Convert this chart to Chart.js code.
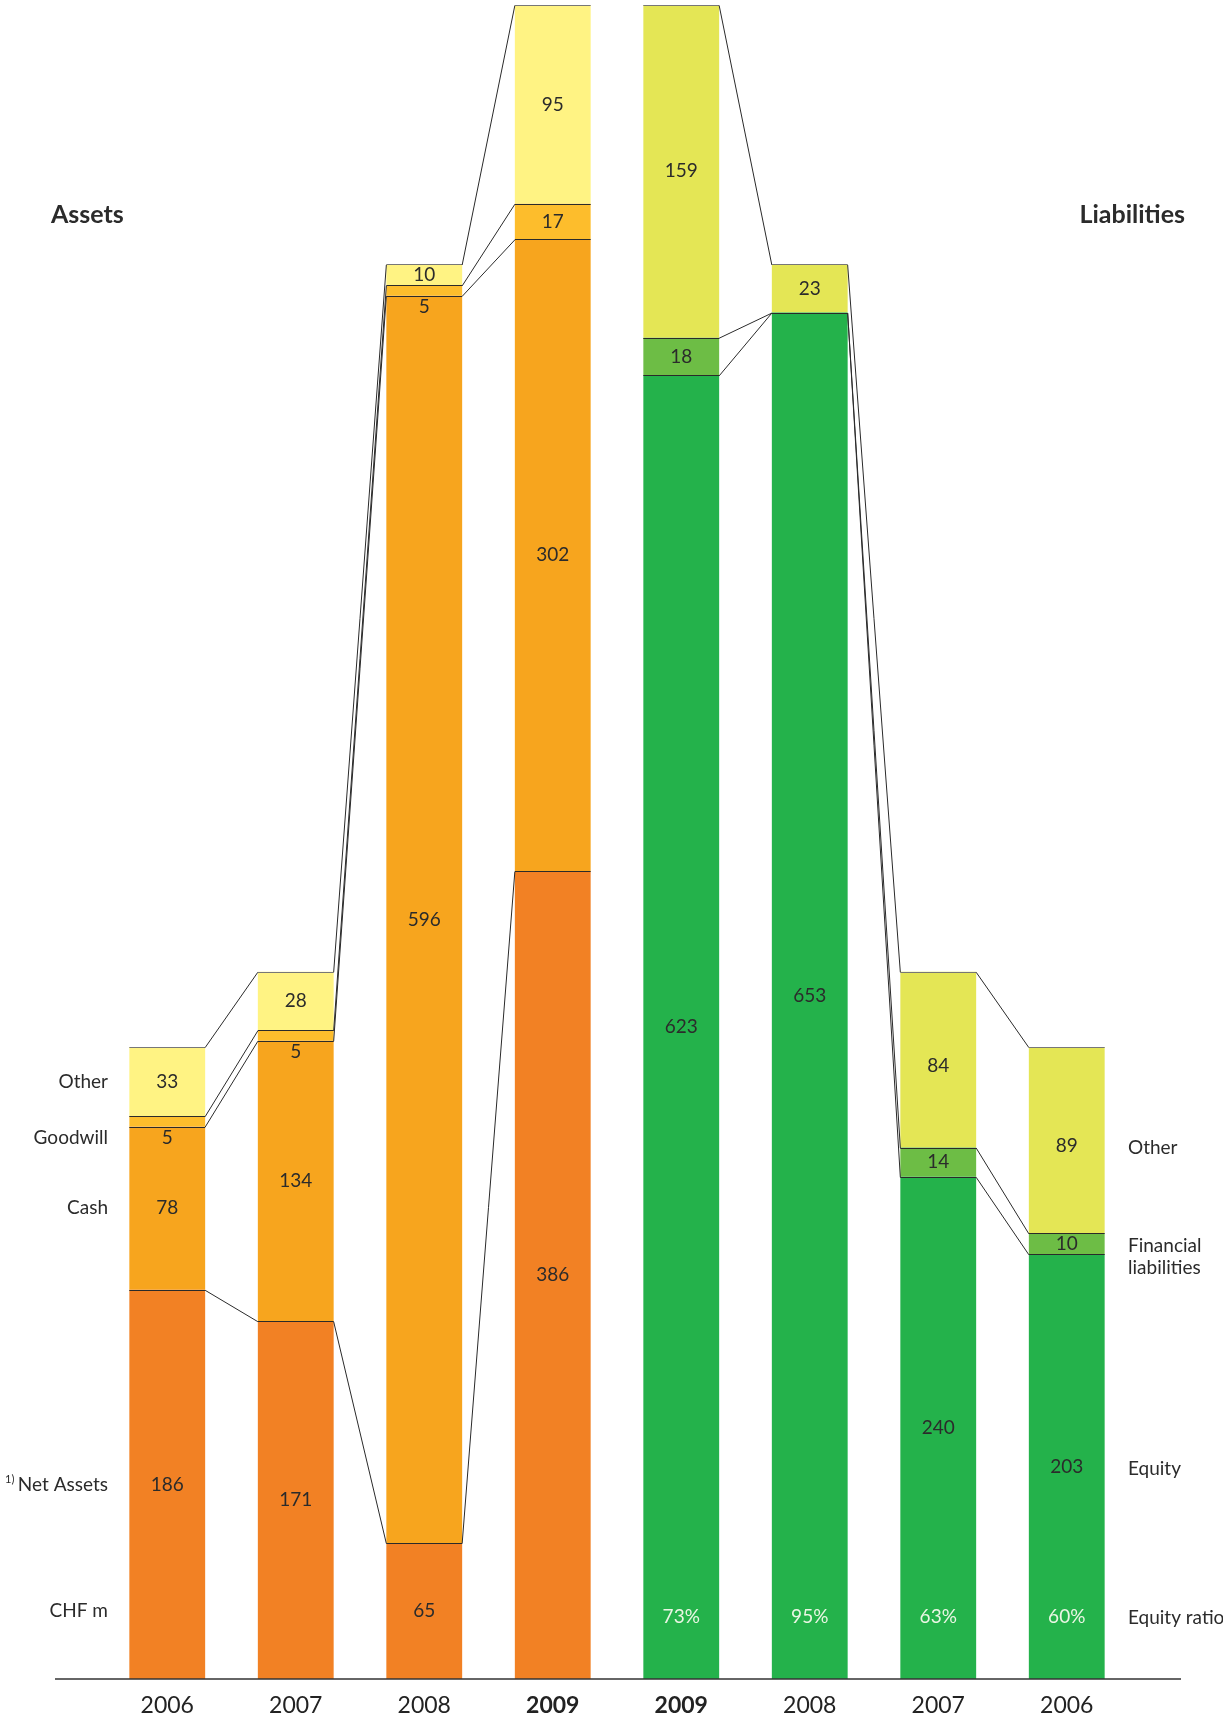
<!DOCTYPE html>
<html>
<head>
<meta charset="utf-8">
<script src="https://cdn.jsdelivr.net/npm/chart.js@4.4.1/dist/chart.umd.min.js"></script>
<style>
  html, body { margin: 0; padding: 0; background: #fff; }
</style>
</head>
<body>
<canvas id="balanceChart" width="1223" height="1720"></canvas>
<script>
// categories: assets 2006-2009, then liabilities 2009-2006
const years = ['2006', '2007', '2008', '2009', '2009', '2008', '2007', '2006'];

// assets (CHF m)
const netAssets   = [186, 171, 65, 386, null, null, null, null];
const cash        = [78, 134, 596, 302, null, null, null, null];
const goodwill    = [5, 5, 5, 17, null, null, null, null];
const otherAssets = [33, 28, 10, 95, null, null, null, null];

// liabilities (CHF m)
const equity               = [null, null, null, null, 623, 653, 240, 203];
const financialLiabilities = [null, null, null, null, 18, 0, 14, 10];
const otherLiabilities     = [null, null, null, null, 159, 23, 84, 89];
const equityRatio          = [null, null, null, null, '73%', '95%', '63%', '60%'];

const leftLabels = ['Net Assets', 'Cash', 'Goodwill', 'Other'];
const rightLabels = ['Equity', 'Financial\nliabilities', 'Other'];

const FONT = 'Lato, "Open Sans", sans-serif';
const TEXT = '#2b2b2b';

// label centre for a segment; tiny segments get their label just below
const labelY = (el, d, i) => {
  const h = el.base - el.y;
  let ty = h >= 15 ? (el.y + el.base) / 2 : el.base + 11;
  if (d === 6 && i > 5) ty += 6; // the older "other" liabilities sit a bit low
  return ty;
};

const balancePlugin = {
  id: 'balance',
  afterDatasetsDraw(chart) {
    const ctx = chart.ctx;
    const yScale = chart.scales.y;
    const zeroY = yScale.getPixelForValue(0);
    const sides = [
      { sets: [0, 1, 2, 3], first: 0, last: 3 },
      { sets: [4, 5, 6], first: 4, last: 7 }
    ];

    ctx.save();
    ctx.lineWidth = 1;

    // segment tops and connector lines
    sides.forEach(side => {
      side.sets.forEach((d, k) => {
        const meta = chart.getDatasetMeta(d);
        const values = chart.data.datasets[d].data;
        const isTop = k === side.sets.length - 1;
        for (let i = side.first; i <= side.last; i++) {
          const el = meta.data[i];
          if (values[i] > 0) {
            ctx.strokeStyle = isTop ? '#777' : '#2a2a2a';
            ctx.beginPath();
            ctx.moveTo(el.x - el.width / 2, Math.round(el.y) + 0.5);
            ctx.lineTo(el.x + el.width / 2, Math.round(el.y) + 0.5);
            ctx.stroke();
          }
          if (i < side.last) {
            const nx = meta.data[i + 1];
            ctx.strokeStyle = '#2a2a2a';
            ctx.beginPath();
            ctx.moveTo(el.x + el.width / 2, el.y + 0.5);
            ctx.lineTo(nx.x - nx.width / 2, nx.y + 0.5);
            ctx.stroke();
          }
        }
      });
    });

    // value labels
    ctx.font = '19px ' + FONT;
    ctx.textAlign = 'center';
    ctx.textBaseline = 'middle';
    ctx.fillStyle = TEXT;
    chart.data.datasets.forEach((ds, d) => {
      const meta = chart.getDatasetMeta(d);
      ds.data.forEach((v, i) => {
        if (!v) return;
        const el = meta.data[i];
        ctx.fillText(String(v), el.x, labelY(el, d, i));
      });
    });

    // equity ratio
    ctx.fillStyle = '#eaf6e4';
    const eqMeta = chart.getDatasetMeta(4);
    equityRatio.forEach((r, i) => {
      if (!r) return;
      ctx.fillText(r, eqMeta.data[i].x, zeroY - 62);
    });

    // left side labels, aligned with the 2006 assets bar
    ctx.fillStyle = TEXT;
    ctx.textAlign = 'right';
    [0, 1, 2, 3].forEach((d, k) => {
      const el = chart.getDatasetMeta(d).data[0];
      ctx.fillText(leftLabels[k], 108, labelY(el, d, 0));
    });
    ctx.fillText('CHF m', 108, zeroY - 68);
    ctx.font = '11px ' + FONT;
    ctx.textAlign = 'left';
    const netEl = chart.getDatasetMeta(0).data[0];
    ctx.fillText('1)', 5, (netEl.y + netEl.base) / 2 - 5);

    // right side labels, aligned with the 2006 liabilities bar
    ctx.font = '19px ' + FONT;
    ctx.textAlign = 'left';
    [4, 5, 6].forEach((d, k) => {
      const el = chart.getDatasetMeta(d).data[7];
      const cy = labelY(el, d, 7);
      rightLabels[k].split('\n').forEach((line, j) => {
        ctx.fillText(line, 1128, cy + 2 + j * 22);
      });
    });
    ctx.fillText('Equity ratio', 1128, zeroY - 61);

    // titles
    ctx.font = 'bold 25px ' + FONT;
    ctx.textAlign = 'left';
    ctx.fillText('Assets', 51, 215);
    ctx.textAlign = 'right';
    ctx.fillText('Liabilities', 1185, 215);

    // baseline
    ctx.strokeStyle = '#333';
    ctx.lineWidth = 1.5;
    ctx.beginPath();
    ctx.moveTo(55, zeroY);
    ctx.lineTo(1181, zeroY);
    ctx.stroke();
    ctx.restore();
  }
};

const makeSet = (label, data, color) => ({
  label: label,
  data: data,
  backgroundColor: color,
  borderWidth: 0,
  barPercentage: 0.59,
  categoryPercentage: 1
});

new Chart(document.getElementById('balanceChart'), {
  type: 'bar',
  data: {
    labels: years,
    datasets: [
      makeSet('Net Assets', netAssets, '#f28124'),
      makeSet('Cash', cash, '#f7a51e'),
      makeSet('Goodwill', goodwill, '#fdbd2c'),
      makeSet('Other', otherAssets, '#fff383'),
      makeSet('Equity', equity, '#24b24b'),
      makeSet('Financial liabilities', financialLiabilities, '#6dbd45'),
      makeSet('Other liabilities', otherLiabilities, '#e4e655')
    ]
  },
  options: {
    responsive: false,
    animation: false,
    layout: { padding: { top: 5, left: 103, right: 92, bottom: 0 } },
    plugins: { legend: { display: false }, tooltip: { enabled: false } },
    scales: {
      x: {
        stacked: true,
        grid: { display: false },
        border: { display: false },
        afterFit: (scale) => { scale.height = 41; },
        ticks: {
          autoSkip: false,
          maxRotation: 0,
          padding: 5,
          color: '#222',
          font: (c) => ({ family: FONT, size: 23, weight: (c.index === 3 || c.index === 4) ? 'bold' : 'normal' })
        }
      },
      y: {
        stacked: true,
        display: false,
        min: 0,
        max: 800
      }
    }
  },
  plugins: [balancePlugin]
});
</script>
</body>
</html>
